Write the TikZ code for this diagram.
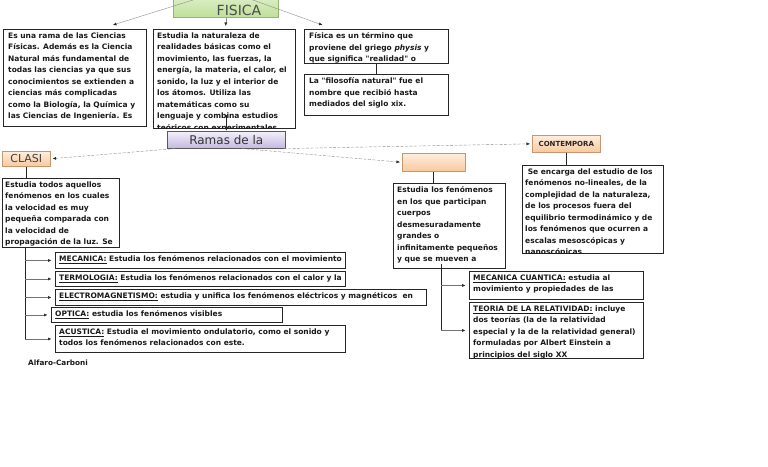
\documentclass[tikz,border=0pt]{standalone}
\usepackage{fontspec}
\setmainfont{DejaVu Sans}
\usetikzlibrary{arrows.meta, shadows}
\definecolor{fistop}{RGB}{234,245,220}
\definecolor{fisbot}{RGB}{190,223,152}
\definecolor{fisline}{RGB}{150,180,120}
\definecolor{orangetop}{RGB}{255,238,222}
\definecolor{orangebot}{RGB}{249,200,158}
\definecolor{orangeline}{RGB}{200,150,110}
\definecolor{ramatop}{RGB}{243,239,250}
\definecolor{ramabot}{RGB}{196,184,224}
\tikzset{
	box/.style = {draw=black!85, line width=0.9pt, anchor=north west, inner sep=0pt},
	txt/.style = {anchor=north west, align=left, inner sep=0pt, text=black!90, font=\fontsize{7.5}{11.5}\selectfont\bfseries},
	topic/.style = {anchor=north west, inner sep=0pt, line width=0.6pt, drop shadow={shadow xshift=1pt, shadow yshift=-1pt, fill=black!45}},
	orange/.style = {topic, draw=orangeline, top color=orangetop, bottom color=orangebot},
	arrow/.style = {-{Latex[length=3.5pt, width=3pt, color=black!85]}, draw=black!45, line width=0.4pt},
	link/.style = {arrow, dash pattern=on 3pt off 1.5pt, shorten >=2pt},
	branch/.style = {arrow, draw=black!55, line width=0.5pt, shorten >=3.5pt},
	plain/.style = {draw=black!85, line width=0.8pt}
}
\begin{document}
\begin{tikzpicture}[x=1pt, y=-1pt]
	\fill[white] (0,0) rectangle (768,466);
	\useasboundingbox (0,0) rectangle (768,466);

	% Titulo
	\node[topic, draw=fisline, top color=fistop, bottom color=fisbot, minimum width=105pt, minimum height=30pt] (fis) at (173,-13) {};
	\node[font=\fontsize{14}{14}\selectfont, text=black!70] (fistxt) at (239,10) {FISICA};
	\coordinate (fisc) at (225,-10);

	% Cuadros de arriba
	\node[box, minimum width=143pt, minimum height=97pt] (b1) at (3,29) {};
	\node[txt] at ([xshift=5pt, yshift=-3.5pt]b1.north west) {Es una rama de las Ciencias\\ Físicas. Además es la Ciencia\\ Natural más fundamental de\\ todas las ciencias ya que sus\\ conocimientos se extienden a\\ ciencias más complicadas\\ como la Biología, la Química y\\ las Ciencias de Ingeniería. Es};
	\node[box, minimum width=142pt, minimum height=99pt] (b2) at (153,29) {};
	\begin{scope}
		\clip (b2.north west) rectangle (b2.south east);
		\node[txt] at ([xshift=4pt, yshift=-3.5pt]b2.north west) {Estudia la naturaleza de\\ realidades básicas como el\\ movimiento, las fuerzas, la\\ energía, la materia, el calor, el\\ sonido, la luz y el interior de\\ los átomos. Utiliza las\\ matemáticas como su\\ lenguaje y combina estudios\\ teóricos con experimentales};
	\end{scope}
	\node[box, minimum width=144pt, minimum height=34pt] (b3) at (304,29) {};
	\node[txt] at ([xshift=5pt, yshift=-3.5pt]b3.north west) {Física es un término que\\ proviene del griego \textit{physis} y\\ que significa \textquotedbl realidad\textquotedbl{} o};
	\node[box, minimum width=144pt, minimum height=41pt] (b4) at (304,74) {};
	\node[txt] at ([xshift=5pt, yshift=-3.5pt]b4.north west) {La \textquotedbl filosofía natural\textquotedbl{} fue el\\ nombre que recibió hasta\\ mediados del siglo xix.};

	% Ramas
	\node[topic, draw=black!65, top color=ramatop, bottom color=ramabot, minimum width=118pt, minimum height=17pt, font=\fontsize{12}{12}\selectfont, text=black!80] (rama) at (167,131) {Ramas de la};
	\node[orange, minimum width=48pt, minimum height=15pt, font=\fontsize{11}{11}\selectfont, text=black!75] (clasi) at (2,151) {CLASI};
	\node[orange, minimum width=63pt, minimum height=18pt] (mod) at (402,153) {};
	\node[orange, minimum width=68pt, minimum height=17pt, font=\fontsize{7}{7}\selectfont\bfseries, text=black!85] (cont) at (532,135) {CONTEMPORA};

	% Descripciones
	\node[box, minimum width=117pt, minimum height=69pt] (cdesc) at (2,178) {};
	\node[txt] at ([xshift=3pt, yshift=-3.5pt]cdesc.north west) {Estudia todos aquellos\\ fenómenos en los cuales\\ la velocidad es muy\\ pequeña comparada con\\ la velocidad de\\ propagación de la luz. Se};
	\node[box, minimum width=112pt, minimum height=85pt] (mdesc) at (393,183) {};
	\node[txt] at ([xshift=4pt, yshift=-3.5pt]mdesc.north west) {Estudia los fenómenos\\ en los que participan\\ cuerpos\\ desmesuradamente\\ grandes o\\ infinitamente pequeños\\ y que se mueven a};
	\node[box, minimum width=141pt, minimum height=88pt] (contdesc) at (522,165) {};
	\begin{scope}
		\clip (contdesc.north west) rectangle (contdesc.south east);
		\node[txt] at ([xshift=3pt, yshift=-3.5pt]contdesc.north west) {\ Se encarga del estudio de los\\ fenómenos no-lineales, de la\\ complejidad de la naturaleza,\\ de los procesos fuera del\\ equilibrio termodinámico y de\\ los fenómenos que ocurren a\\ escalas mesoscópicas y\\ nanoscópicas};
	\end{scope}

	% Ramas clasicas
	\node[box, minimum width=290pt, minimum height=16pt] (mec) at (55,252) {};
	\node[txt] at ([xshift=4pt, yshift=-3.5pt]mec.north west) {\underline{MECANICA:} Estudia los fenómenos relacionados con el movimiento};
	\node[box, minimum width=290pt, minimum height=15pt] (ter) at (55,271) {};
	\node[txt] at ([xshift=4pt, yshift=-3.5pt]ter.north west) {\underline{TERMOLOGIA:} Estudia los fenómenos relacionados con el calor y la};
	\node[box, minimum width=371pt, minimum height=16pt] (ele) at (55,289) {};
	\node[txt] at ([xshift=4pt, yshift=-3.5pt]ele.north west) {\underline{ELECTROMAGNETISMO:} estudia y unifica los fenómenos eléctricos y magnéticos \ en};
	\node[box, minimum width=231pt, minimum height=15pt] (opt) at (51,307) {};
	\node[txt] at ([xshift=4pt, yshift=-3.5pt]opt.north west) {\underline{OPTICA:} estudia los fenómenos visibles};
	\node[box, minimum width=290pt, minimum height=27pt] (acu) at (55,325) {};
	\node[txt] at ([xshift=4pt, yshift=-3.5pt]acu.north west) {\underline{ACUSTICA:} Estudia el movimiento ondulatorio, como el sonido y\\ todos los fenómenos relacionados con este.};

	% Ramas modernas
	\node[box, minimum width=174pt, minimum height=28pt] (mq) at (469,271) {};
	\node[txt] at ([xshift=4pt, yshift=-3.5pt]mq.north west) {\underline{MECANICA CUANTICA:} estudia al\\ movimiento y propiedades de las};
	\node[box, minimum width=174pt, minimum height=56pt] (teo) at (469,302) {};
	\begin{scope}
		\clip (teo.north west) rectangle (teo.south east);
		\node[txt] at ([xshift=4pt, yshift=-3.5pt]teo.north west) {\underline{TEORIA DE LA RELATIVIDAD:} incluye\\ dos teorías (la de la relatividad\\ especial y la de la relatividad general)\\ formuladas por Albert Einstein a\\ principios del siglo XX};
	\end{scope}

	\node[txt, font=\fontsize{7.3}{8}\selectfont\bfseries] (autor) at (28,360) {Alfaro-Carboni};

	% Conectores
	\draw[arrow] (fisc) -- ([xshift=38pt, yshift=4pt]b1.north);
	\draw[arrow] (fis.south) -- ([yshift=3pt]fis.south |- b2.north);
	\draw[arrow] (fisc) -- ([xshift=-54pt, yshift=4pt]b3.north);
	\draw[plain] (b3.south) -- (b4.north);
	\draw[arrow, draw=black!85, line width=0.7pt] ([yshift=14pt]b2.south -| rama.north) -- (rama.north);
	\draw[link] ([xshift=8pt]rama.south west) -- (clasi.east);
	\draw[link] ([xshift=16pt]rama.south) -- (mod.west);
	\draw[link] ([xshift=-2pt]rama.south east) -- (cont.west);
	\draw[plain] (clasi.south) -- (clasi.south |- cdesc.north);
	\draw[plain] (mod.south) -- (mod.south |- mdesc.north);
	\draw[plain] (cont.south) -- (cont.south |- contdesc.north);

	% Arboles
	\coordinate (lt) at ([xshift=23pt]cdesc.south west);
	\draw[plain] (lt) -- (lt |- acu.west);
	\foreach \b in {mec, ter, ele, opt, acu}
		\draw[branch] (lt |- \b.west) -- (\b.west);
	\coordinate (rt) at ([xshift=-8pt, yshift=5pt]mdesc.south);
	\draw[plain] (rt) -- (rt |- teo.west);
	\foreach \b in {mq, teo}
		\draw[branch] (rt |- \b.west) -- (\b.west);
\end{tikzpicture}
\end{document}
